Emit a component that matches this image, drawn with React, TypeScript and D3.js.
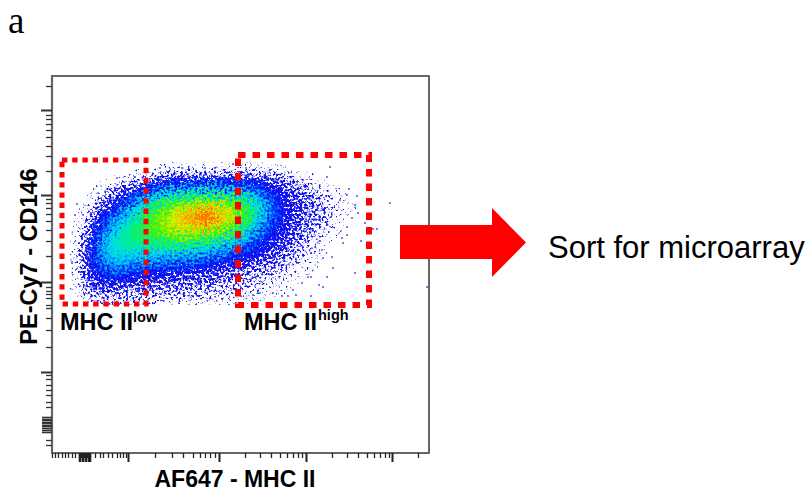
import React, { useEffect, useMemo, useRef } from 'react';
import * as d3 from 'd3';

// all flow values are display channels, 0-377 on both axes
const xMajorTicks = [76, 167, 254, 340];
const xMinorTicks = [0, 3, 6, 10, 13, 16, 20, 23, 27, 29, 31, 32, 34, 35, 37, 38, 43, 48, 51, 56, 60, 65, 68, 71, 74,
  103, 120, 131, 141, 148, 153, 158, 163, 193, 208, 219, 228, 235, 241, 246, 250, 280, 295, 306, 315, 322, 328, 333, 337, 366];
const xClusterTicks = [27, 28, 30, 31, 33, 34, 36, 37, 38];
const yMajorTicks = [343, 258, 171, 81];
const yMinorTicks = [367, 338, 334, 329, 323, 316, 307, 297, 282, 254, 250, 245, 239, 232, 223, 212, 197,
  166, 162, 159, 155, 148, 145, 135, 123, 106, 78, 74, 68, 63, 58, 51, 46, 13, 8];
const yClusterTicks = [36, 34, 33, 31, 30, 28, 27, 25, 23, 21];

const gridX = [24, 36, 48, 60, 72, 84, 96, 108, 120, 132, 144, 156, 168, 180, 192, 204, 216, 228, 240, 252, 264, 276, 288, 300];
const gridY = [293, 283, 273, 263, 253, 243, 233, 223, 213, 203, 193, 183, 173, 163, 153];
// density, 0 empty, 1-3 blue, 5 cyan, 7 green, 8 yellow, 10 red
const density = [
  [0, 0, 0, 0, 0, 0, 0, 0, 0, 0, 0, 0, 0, 0, 0, 0, 0, 0, 0, 0, 0, 0, 0, 0],
  [0, 0, 0, 0, 0, 0, .2, .5, .6, .6, .6, .6, .6, .6, .6, .6, .5, .3, .1, 0, 0, 0, 0, 0],
  [0, 0, 0, .2, .5, 1, 1.5, 2.2, 2.5, 2.5, 2.5, 2.5, 2.5, 2.5, 2.5, 2.5, 2.5, 2, 1.5, .8, .3, 0, 0, 0],
  [0, 0, .3, 1.5, 2, 2.5, 3.5, 4, 4.5, 4.5, 5, 5, 5, 4.5, 4.5, 4, 3, 2.5, 2, 1.5, 1, .5, .2, 0],
  [0, .1, 1.2, 2, 3, 4, 5.5, 6, 6.5, 7, 7, 7, 7, 7, 6.5, 5.5, 4, 3, 2.5, 2, 1.5, 1, .4, .2],
  [0, .6, 2.2, 3, 4, 5.5, 6.5, 7, 8, 8.5, 9, 9.5, 9, 8, 7.5, 6, 4.5, 3.2, 2.5, 2, 1.5, 1, .5, .2],
  [0, 1, 3, 4, 5, 6, 7, 7.5, 8.5, 9, 9.5, 10, 9, 8, 7, 5.5, 4, 3, 2.5, 2, 1.5, 1, .4, 0],
  [.1, 1.5, 3.5, 5, 6, 6.5, 7, 7.5, 8, 8, 8, 8, 7.5, 7, 6, 4.5, 3.5, 2.7, 2.2, 1.7, 1.2, .7, .3, 0],
  [.2, 2, 4, 5.5, 6.2, 6.5, 6.5, 6.5, 7, 7, 7, 6.5, 6, 5.5, 4.5, 3.5, 3, 2.5, 2, 1.4, .8, .3, 0, 0],
  [.4, 2.5, 4.5, 5.7, 5.7, 5.5, 5.5, 5.5, 5.5, 5.5, 5, 5, 4.5, 4, 3.5, 3, 2.7, 2.2, 1.6, 1, .5, .2, 0, 0],
  [.4, 2.5, 4.2, 5.2, 5, 4.5, 4.5, 4.5, 4, 4, 4, 3.5, 3.2, 3, 2.7, 2.4, 2, 1.6, 1.2, .6, .3, 0, 0, 0],
  [.4, 2.3, 3.5, 4, 3.8, 3.5, 3.2, 3, 3, 2.8, 2.7, 2.5, 2.3, 2.1, 1.9, 1.6, 1.3, 1, .7, .4, .2, 0, 0, 0],
  [.4, 2.1, 3, 3, 2.7, 2.5, 2.5, 2.3, 2.1, 2, 1.9, 1.8, 1.6, 1.5, 1.2, 1, .8, .6, .3, .2, 0, 0, 0, 0],
  [.2, 1.5, 2, 2, 1.8, 1.7, 1.7, 1.5, 1.5, 1.4, 1.4, 1.3, 1.2, 1, .9, .7, .5, .4, .2, 0, 0, 0, 0, 0],
  [0, .6, .9, .9, .8, .8, .8, .7, .7, .7, .7, .6, .6, .5, .4, .3, .2, 0, 0, 0, 0, 0, 0, 0],
];
// lone events outside the main cloud
const outlierX = [338, 321, 325, 313, 309, 303, 375, 297, 305, 303, 306, 295, 288, 300, 295, 295, 290, 291, 281, 280, 275, 271, 267, 259, 259, 256, 250, 241, 236, 244, 278, 275, 194, 181, 230, 221, 208, 201, 270, 271, 25, 23, 20, 65, 83, 108, 130, 153, 163];
const outlierY = [250, 224, 224, 230, 212, 180, 166, 264, 257, 248, 240, 258, 253, 235, 226, 218, 215, 210, 185, 196, 176, 166, 168, 176, 157, 176, 170, 163, 157, 158, 286, 276, 285, 289, 157, 160, 160, 158, 203, 195, 249, 238, 191, 275, 276, 285, 285, 285, 285];

const gateLow = { x0: 10, x1: 94, y0: 149, y1: 293 };
const gateHigh = { x0: 186, x1: 317, y0: 148, y1: 298 };

const sparseLevels = [.2, .5, .8, 1.1, 1.5, 2, 2.5, 3];
const sparseCover = [.36, .42, .47, .52, .57, .63, .7, .85];
const colorLevels = [3.2, 3.6, 4, 4.4, 4.8, 5.2, 5.6, 6, 6.4, 6.8, 7.2, 7.6, 8, 8.4, 8.8, 9.2, 9.6];
const jet = d3.scaleLinear<string>()
  .domain([3.2, 3.6, 4.4, 5.2, 6, 7, 8, 8.8, 9.6])
  .range(['#0030f8', '#0060ff', '#00a8ff', '#00e0e0', '#00f080', '#50f000', '#d8f000', '#ff9800', '#ff2800']);

const x = d3.scaleLinear().domain([0, 377]).range([52, 429]);
const y = d3.scaleLinear().domain([0, 377]).range([453, 76]);

const SANS = '"Liberation Sans", Arial, sans-serif';
const UP = 6;

const App = () => {
  const axesRef = useRef<SVGGElement>(null);

  useEffect(() => {
    const g = d3.select(axesRef.current);
    g.selectAll('*').remove();
    const bottom = (vals: number[], size: number, sw: number) => g.append('g')
      .attr('transform', 'translate(0,453)')
      .call(d3.axisBottom(x).tickValues(vals).tickSize(size).tickFormat(() => ''))
      .call(s => s.select('.domain').remove())
      .call(s => s.selectAll('line').attr('stroke', '#222').attr('stroke-width', sw));
    const left = (vals: number[], size: number, sw: number) => g.append('g')
      .attr('transform', 'translate(52,0)')
      .call(d3.axisLeft(y).tickValues(vals).tickSize(size).tickFormat(() => ''))
      .call(s => s.select('.domain').remove())
      .call(s => s.selectAll('line').attr('stroke', '#333').attr('stroke-width', sw));
    bottom(xMinorTicks, 5, 1.3);
    bottom(xClusterTicks, 9, 1.6);
    bottom(xMajorTicks, 9, 2);
    left(yMinorTicks, 6, 1.3);
    left(yClusterTicks, 10, 1.6);
    left(yMajorTicks, 11, 2);
  }, []);

  const { sparse, colored, path } = useMemo(() => {
    const nx = gridX.length;
    const ny = gridY.length;
    const w = nx * UP;
    const h = ny * UP;
    const values = new Float64Array(w * h);
    for (let j = 0; j < h; j++) {
      for (let i = 0; i < w; i++) {
        values[j * w + i] = density[Math.floor(j / UP)][Math.floor(i / UP)];
      }
    }
    d3.blur2({ data: values, width: w, height: h }, 3);
    const gx = d3.scaleLinear().domain([UP / 2, w - UP / 2]).range([x(gridX[0]), x(gridX[nx - 1])]);
    const gy = d3.scaleLinear().domain([UP / 2, h - UP / 2]).range([y(gridY[0]), y(gridY[ny - 1])]);
    const path = d3.geoPath(d3.geoTransform({
      point(px, py) { this.stream.point(gx(px), gy(py)); },
    }));
    const contours = d3.contours().size([w, h]);
    return {
      sparse: sparseLevels.map(t => contours.contour(Array.from(values), t)),
      colored: colorLevels.map(t => ({ t, shape: contours.contour(Array.from(values), t) })),
      path,
    };
  }, []);

  return (
    <svg width={807} height={492} style={{ position: 'absolute', left: 0, top: 0 }}>
      <defs>
        <filter id="events" filterUnits="userSpaceOnUse" x={52} y={76} width={377} height={377} colorInterpolationFilters="sRGB">
          <feColorMatrix in="SourceGraphic" type="matrix" values="0 0 0 0 0  0 0 0 0 0  0 0 0 0 0  1 0 0 0 0" result="cover" />
          <feTurbulence type="fractalNoise" baseFrequency="0.42" numOctaves={2} seed={7} result="noise" />
          <feColorMatrix in="noise" type="matrix" values="0 0 0 0 0  0 0 0 0 0  0 0 0 0 0  1 0 0 0 0" result="noiseAlpha" />
          <feComposite in="cover" in2="noiseAlpha" operator="arithmetic" k1={0} k2={1} k3={1} k4={-1} result="sum" />
          <feComponentTransfer in="sum" result="mask">
            <feFuncA type="linear" slope={7} intercept={0} />
          </feComponentTransfer>
          <feFlood floodColor="#1010f0" />
          <feComposite in2="mask" operator="in" />
        </filter>
        <filter id="grain" filterUnits="userSpaceOnUse" x={52} y={76} width={377} height={377} colorInterpolationFilters="sRGB">
          <feTurbulence type="fractalNoise" baseFrequency="0.4" numOctaves={2} seed={3} result="noise" />
          <feDisplacementMap in="SourceGraphic" in2="noise" scale={42} xChannelSelector="R" yChannelSelector="G" />
        </filter>
      </defs>

      <text x={8} y={33} fontFamily='"Liberation Serif", serif' fontSize={37}>a</text>

      <g filter="url(#events)">
        {sparse.map((c, i) => <path key={i} d={path(c) ?? ''} fill={d3.rgb(sparseCover[i] * 255, 0, 0).formatRgb()} />)}
      </g>
      <g filter="url(#grain)">
        {colored.map(({ t, shape }) => <path key={t} d={path(shape) ?? ''} fill={jet(t)} />)}
      </g>
      <g fill="#2a2aee" fillOpacity={0.8}>
        {outlierX.map((v, i) => <circle key={i} cx={x(v)} cy={y(outlierY[i])} r={1} />)}
      </g>

      <rect x={52} y={76} width={377} height={377} fill="none" stroke="#333" strokeWidth={1.5} />
      <path d="M52,454V76H429" fill="none" stroke="#666" strokeWidth={2.2} />
      <g ref={axesRef} />

      <rect x={x(gateLow.x0)} y={y(gateLow.y1)} width={x(gateLow.x1) - x(gateLow.x0)} height={y(gateLow.y0) - y(gateLow.y1)}
        fill="none" stroke="#ff0000" strokeWidth={5} strokeDasharray="5.4 4.8" />
      <rect x={x(gateHigh.x0)} y={y(gateHigh.y1)} width={x(gateHigh.x1) - x(gateHigh.x0)} height={y(gateHigh.y0) - y(gateHigh.y1)}
        fill="none" stroke="#ff0000" strokeWidth={6} strokeDasharray="7.5 7" />

      <g fontFamily={SANS} fontWeight="bold" fill="#000">
        <text x={60} y={330} fontSize={23.5}>MHC II</text>
        <text x={133} y={322} fontSize={14.5}>low</text>
        <text x={244} y={330} fontSize={23.5}>MHC II</text>
        <text x={318} y={320} fontSize={14.5}>high</text>
        <text x={235} y={487} fontSize={23} textAnchor="middle">AF647 - MHC II</text>
        <text transform="translate(37,256.500) rotate(-90)" fontSize={23.5} textAnchor="middle">PE-Cy7 - CD146</text>
      </g>

      <path d="M400,225H492V208L526,242.500L492,277V259H400Z" fill="#ff0000" />
      <text x={548} y={258} fontFamily={SANS} fontSize={31}>Sort for microarray</text>
    </svg>
  );
};

export default App;
